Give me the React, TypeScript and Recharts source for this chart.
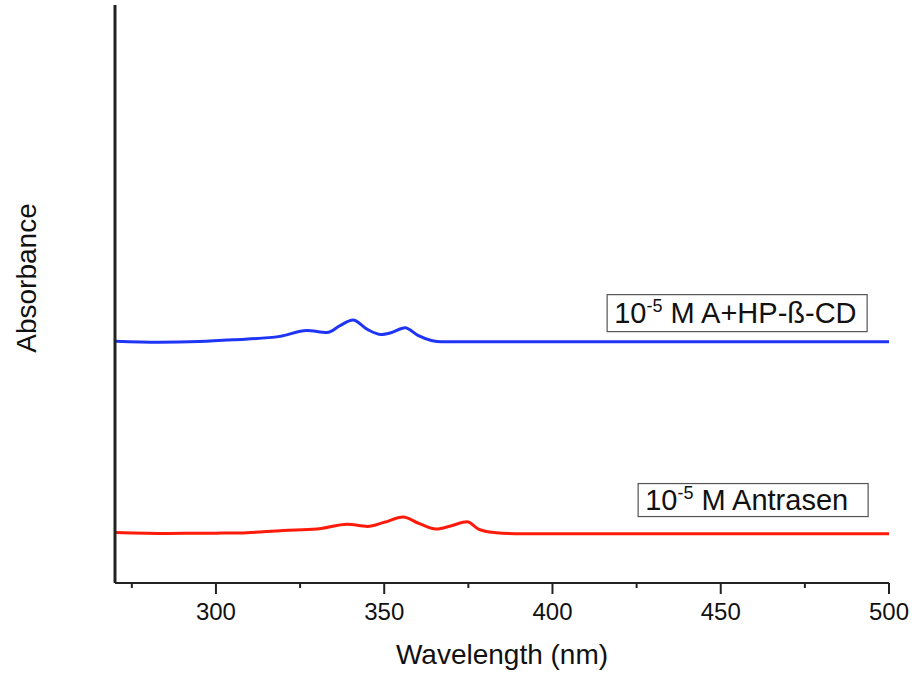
import { LineChart, Line, XAxis, YAxis, ReferenceDot, Label } from "recharts";

// ─── Spectra (wavelength in nm, absorbance in arbitrary units) ───

const complexWavelength = [270, 283, 295, 305, 319, 327, 333, 337, 340.7, 345, 349, 352, 356.2, 360, 364, 367, 380, 500];
const complexAbsorbance = [0.502, 0.5, 0.5015, 0.505, 0.512, 0.524, 0.52, 0.535, 0.546, 0.5265, 0.516, 0.5197, 0.53, 0.514, 0.5036, 0.501, 0.501, 0.501];

const anthraceneWavelength = [270, 286, 300, 307, 320, 330, 339, 345, 350, 355.6, 360, 365.4, 370, 374.6, 378, 382.6, 391, 500];
const anthraceneAbsorbance = [0.105, 0.103, 0.1035, 0.104, 0.109, 0.112, 0.122, 0.1175, 0.126, 0.137, 0.1246, 0.112, 0.119, 0.127, 0.112, 0.105, 0.1023, 0.1023];

const xTicks = [275, 300, 325, 350, 375, 400, 425, 450, 475, 500];

const complexSeries = complexWavelength.map((nm, i) => ({ nm, value: complexAbsorbance[i] }));
const anthraceneSeries = anthraceneWavelength.map((nm, i) => ({ nm, value: anthraceneAbsorbance[i] }));

const FONT = "'Liberation Sans', Arial, sans-serif";

function WavelengthTick({ x, payload }: any) {
  const major = payload.value % 50 === 0;
  return (
    <g>
      <line x1={x} y1={583} x2={x} y2={583 + (major ? 11 : 5)} stroke="#222" strokeWidth={2} />
      {major && (
        <text x={x} y={620} textAnchor="middle" fontSize={24} fill="#111" fontFamily={FONT}>
          {payload.value}
        </text>
      )}
    </g>
  );
}

// box label anchored at its right edge
function makeBox(head: string, rest: string, width: number, height: number) {
  return ({ cx, cy }: any) => (
    <g>
      <rect x={cx - width} y={cy - height / 2} width={width} height={height} fill="#fff" stroke="#555" strokeWidth={1.2} />
      <text x={cx - width + 7} y={cy + 10} fontSize={29} fill="#111" fontFamily={FONT}>
        {head}
        <tspan dy={-11} fontSize={18}>-5</tspan>
        <tspan dy={11}>{rest}</tspan>
      </text>
    </g>
  );
}

export default function App() {
  return (
    <div style={{ position: "absolute", left: 0, top: 0, background: "#fff" }}>
      <LineChart width={913} height={680} margin={{ top: 5, right: 24, left: 55, bottom: 0 }}>
        <XAxis
          type="number"
          dataKey="nm"
          domain={[270, 500]}
          ticks={xTicks}
          allowDataOverflow
          axisLine={{ stroke: "#222", strokeWidth: 2 }}
          tickLine={false}
          tick={<WavelengthTick />}
          height={97}
        >
          <Label
            value="Wavelength (nm)"
            position="insideBottom"
            offset={16}
            style={{ fontSize: 28, fill: "#111", fontFamily: FONT }}
          />
        </XAxis>
        <YAxis
          type="number"
          dataKey="value"
          domain={[0, 1.2]}
          width={60}
          tick={false}
          tickLine={false}
          axisLine={{ stroke: "#222", strokeWidth: 3 }}
        >
          <Label
            content={() => (
              <text
                x={26}
                y={278}
                transform="rotate(-90, 26, 278)"
                textAnchor="middle"
                dominantBaseline="central"
                fontSize={28}
                fill="#111"
                fontFamily={FONT}
              >
                Absorbance
              </text>
            )}
          />
        </YAxis>
        <Line
          data={complexSeries}
          dataKey="value"
          type="monotone"
          stroke="#1f35f5"
          strokeWidth={3}
          dot={false}
          isAnimationActive={false}
        />
        <Line
          data={anthraceneSeries}
          dataKey="value"
          type="monotone"
          stroke="#ff1a0a"
          strokeWidth={3}
          dot={false}
          isAnimationActive={false}
        />
        <ReferenceDot x={493.5} y={0.5603} ifOverflow="visible" shape={makeBox("10", " M A+HP-ß-CD", 260, 37)} />
        <ReferenceDot x={493.8} y={0.1722} ifOverflow="visible" shape={makeBox("10", " M Antrasen", 230, 33)} />
      </LineChart>
    </div>
  );
}
